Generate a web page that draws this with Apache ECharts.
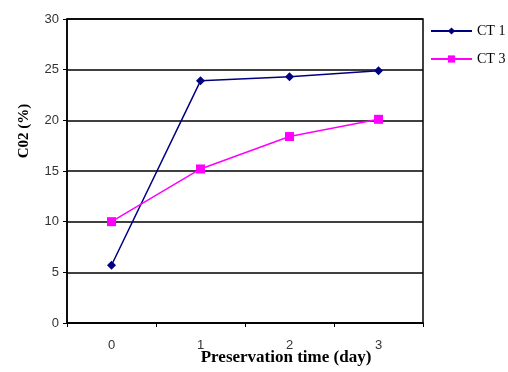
<!DOCTYPE html>
<html>
<head>
<meta charset="utf-8">
<script src="https://cdn.jsdelivr.net/npm/echarts@6/dist/echarts.min.js"></script>
<style>
	html, body { margin: 0; padding: 0; background: #fff; }
	#co2Chart { width: 508px; height: 372px; }
</style>
</head>
<body>
<div id="co2Chart"></div>
<script>
"use strict";

/*****Data start*****/
var days = ['0', '1', '2', '3'];
var ct1 = [5.7, 23.9, 24.3, 24.9];
var ct3 = [10.0, 15.2, 18.4, 20.1];
/*****Data end*****/

var chart = echarts.init(document.getElementById('co2Chart'));
var option = {
	animation: false,
	backgroundColor: '#fff',
	grid: {
		show: true,
		left: 67,
		right: 85,
		top: 19,
		bottom: 49,
		outerBoundsMode: 'none',
		borderColor: '#000',
		borderWidth: 1.5
	},
	legend: {
		orient: 'vertical',
		left: 430,
		top: 24,
		padding: 0,
		itemWidth: 41,
		itemHeight: 9,
		itemGap: 14,
		textStyle: {
			fontFamily: 'Liberation Serif',
			fontSize: 14,
			color: '#000'
		},
		data: ['CT 1', 'CT 3']
	},
	xAxis: {
		type: 'category',
		data: days,
		boundaryGap: true,
		name: 'Preservation time (day)',
		nameLocation: 'middle',
		nameGap: 26,
		nameMoveOverlap: false,
		nameTextStyle: {
			fontFamily: 'Liberation Serif',
			fontWeight: 'bold',
			fontSize: 17,
			color: '#000',
			padding: [0, 0, 0, 82]
		},
		axisLine: { lineStyle: { color: '#000', width: 1.5 } },
		axisTick: { show: true, length: 4, lineStyle: { color: '#000' } },
		axisLabel: {
			margin: 16,
			fontFamily: 'Liberation Sans',
			fontSize: 13,
			color: '#333'
		}
	},
	yAxis: {
		type: 'value',
		min: 0,
		max: 30,
		interval: 5,
		name: 'C02 (%)',
		nameLocation: 'middle',
		nameGap: 35,
		nameMoveOverlap: false,
		nameTextStyle: {
			fontFamily: 'Liberation Serif',
			fontWeight: 'bold',
			fontSize: 15,
			color: '#000',
			padding: [0, 0, 0, 80]
		},
		axisLine: { show: true, lineStyle: { color: '#000', width: 1.5 } },
		axisTick: { show: true, length: 4, lineStyle: { color: '#000' } },
		axisLabel: {
			margin: 8,
			fontFamily: 'Liberation Sans',
			fontSize: 13,
			color: '#333'
		},
		splitLine: { show: true, lineStyle: { color: '#000', width: 1.5 } }
	},
	series: [
		{
			name: 'CT 1',
			type: 'line',
			data: ct1,
			symbol: 'diamond',
			symbolSize: 9,
			itemStyle: { color: '#000080' },
			lineStyle: { color: '#000080', width: 1.5 }
		},
		{
			name: 'CT 3',
			type: 'line',
			data: ct3,
			symbol: 'rect',
			symbolSize: 9,
			itemStyle: { color: '#ff00ff' },
			lineStyle: { color: '#ff00ff', width: 1.5 }
		}
	]
};
chart.setOption(option);
</script>
</body>
</html>
